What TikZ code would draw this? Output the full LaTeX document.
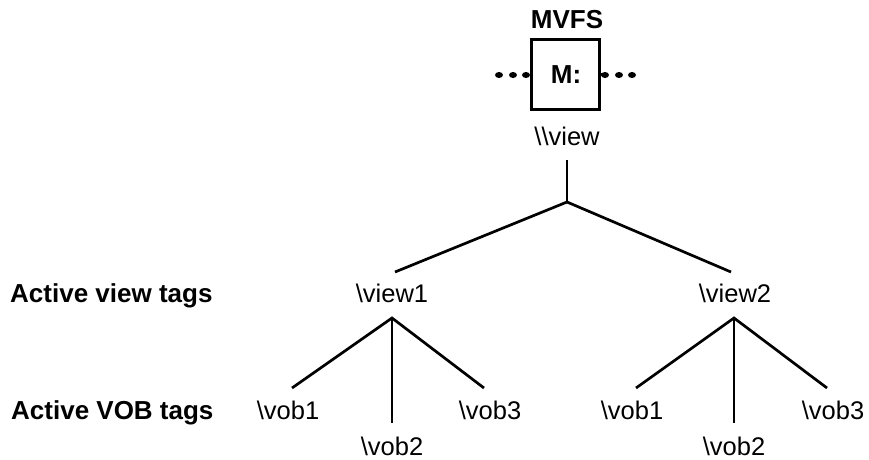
\documentclass[tikz,border=0pt]{standalone}
\usepackage{fontspec}
\setmainfont{Liberation Sans}
\begin{document}
\begin{tikzpicture}[x=1pt,y=-1pt,
  lbl/.style={inner sep=0pt,anchor=base,font=\fontsize{25.5}{30}\selectfont},
  bold/.style={lbl,font=\fontsize{26}{31}\selectfont\bfseries},
  branch/.style={line width=2.7pt},
  mbox/.style={draw,line width=3.8pt,minimum width=68pt,minimum height=70pt,inner sep=0pt},
]
\useasboundingbox (0,0) rectangle (869,459);

% MVFS box with its continuation dots
\node[bold] (mvfs) at (567,28) {MVFS};
\node[mbox] (m) at (565.5,74.5) {};
\node[bold] (mlabel) at (566,83) {M:};
\foreach \px in {499,513,526,605,619,632}
  \fill (\px,75) ellipse [x radius=4pt,y radius=3pt];
\draw[line width=2.5pt] (m.east) -- ++(5,0);

% root of the tag tree
\node[lbl] (root) at (567,145) {\textbackslash\textbackslash view};
\coordinate (stem) at (567,160);
\coordinate (fork) at (567,202);
\coordinate (v1in) at (395,272);
\coordinate (v2in) at (731,272);
\draw[branch] (stem) -- (fork);
\draw[branch] (fork) -- (v1in);
\draw[branch] (fork) -- (v2in);

% row labels
\node[bold,anchor=base west] (avt) at (10,302) {Active view tags};
\node[bold,anchor=base west] (avob) at (11,419) {Active VOB tags};

% view tags
\node[lbl] (view1) at (392,302) {\textbackslash view1};
\node[lbl] (view2) at (735,302) {\textbackslash view2};

% VOB tags under view1
\coordinate (a1) at (392,318);
\coordinate (a1l) at (292,388);
\coordinate (a1m) at (392,423);
\coordinate (a1r) at (484,388);
\draw[branch] (a1l) -- (a1) -- (a1r);
\draw[branch] (a1) -- (a1m);
\node[lbl] (v1vob1) at (288,419) {\textbackslash vob1};
\node[lbl] (v1vob2) at (392,455) {\textbackslash vob2};
\node[lbl] (v1vob3) at (490,419) {\textbackslash vob3};

% VOB tags under view2
\coordinate (a2) at (734,318);
\coordinate (a2l) at (636,388);
\coordinate (a2m) at (734,423);
\coordinate (a2r) at (827,388);
\draw[branch] (a2l) -- (a2) -- (a2r);
\draw[branch] (a2) -- (a2m);
\node[lbl] (v2vob1) at (632,419) {\textbackslash vob1};
\node[lbl] (v2vob2) at (734,455) {\textbackslash vob2};
\node[lbl] (v2vob3) at (833,419) {\textbackslash vob3};
\end{tikzpicture}
\end{document}
